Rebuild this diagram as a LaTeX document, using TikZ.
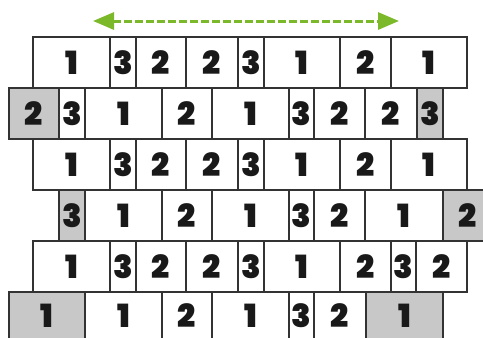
\documentclass[tikz,border=0pt]{standalone}
\usepackage{fontspec}
\newfontfamily\digitfont{Poppins Black}
\usetikzlibrary{arrows.meta}
\definecolor{brickline}{HTML}{333333}
\definecolor{brickgray}{HTML}{C8C8C8}
\definecolor{arrowgreen}{HTML}{7CB92A}
\tikzset{
  brick/.style={draw=brickline, line width=1.8pt, fill=white, inner sep=0pt,
    font=\digitfont\fontsize{32}{32}\selectfont, text=black!90},
  grey/.style={brick, fill=brickgray},
  spanarrow/.style={draw=arrowgreen, line width=3pt, dash pattern=on 8pt off 3pt,
    {Triangle[length=21pt,width=17pt,fill=arrowgreen]}-{Triangle[length=21pt,width=17pt,fill=arrowgreen]}}
}
\newcommand{\brick}[7]{\node[#7, minimum width={(#3-#2)*1pt}, minimum height={(#5-#4)*1pt}] (#1) at ({(#2+#3)/2},{(#4+#5)/2}) {#6};}
\begin{document}
\begin{tikzpicture}[x=1pt,y=-1pt]
\useasboundingbox (0,0) rectangle (483,338);
\clip (0,0) rectangle (483,338);
% arrow
\coordinate (al) at (93,21);
\coordinate (ar) at (399,21);
\draw[spanarrow] (al) -- (ar);
% row 1
\brick{a1}{33}{110}{37}{88}{1}{brick}
\brick{a2}{110}{136}{37}{88}{3}{brick}
\brick{a3}{136}{186}{37}{88}{2}{brick}
\brick{a4}{186}{238}{37}{88}{2}{brick}
\brick{a5}{238}{264}{37}{88}{3}{brick}
\brick{a6}{264}{340}{37}{88}{1}{brick}
\brick{a7}{340}{391}{37}{88}{2}{brick}
\brick{a8}{391}{467}{37}{88}{1}{brick}
% row 2
\brick{b1}{9}{59}{88}{139}{2}{grey}
\brick{b2}{59}{85}{88}{139}{3}{brick}
\brick{b3}{85}{162}{88}{139}{1}{brick}
\brick{b4}{162}{212}{88}{139}{2}{brick}
\brick{b5}{212}{289}{88}{139}{1}{brick}
\brick{b6}{289}{314}{88}{139}{3}{brick}
\brick{b7}{314}{365}{88}{139}{2}{brick}
\brick{b8}{365}{417}{88}{139}{2}{brick}
\brick{b9}{417}{443}{88}{139}{3}{grey}
% row 3
\brick{c1}{33}{110}{139}{190}{1}{brick}
\brick{c2}{110}{136}{139}{190}{3}{brick}
\brick{c3}{136}{186}{139}{190}{2}{brick}
\brick{c4}{186}{238}{139}{190}{2}{brick}
\brick{c5}{238}{264}{139}{190}{3}{brick}
\brick{c6}{264}{340}{139}{190}{1}{brick}
\brick{c7}{340}{391}{139}{190}{2}{brick}
\brick{c8}{391}{467}{139}{190}{1}{brick}
% row 4
\brick{d1}{59}{85}{190}{241}{3}{grey}
\brick{d2}{85}{162}{190}{241}{1}{brick}
\brick{d3}{162}{212}{190}{241}{2}{brick}
\brick{d4}{212}{289}{190}{241}{1}{brick}
\brick{d5}{289}{314}{190}{241}{3}{brick}
\brick{d6}{314}{365}{190}{241}{2}{brick}
\brick{d7}{365}{443}{190}{241}{1}{brick}
\brick{d8}{443}{493}{190}{241}{2}{grey}
% row 5
\brick{e1}{33}{110}{241}{292}{1}{brick}
\brick{e2}{110}{136}{241}{292}{3}{brick}
\brick{e3}{136}{186}{241}{292}{2}{brick}
\brick{e4}{186}{238}{241}{292}{2}{brick}
\brick{e5}{238}{264}{241}{292}{3}{brick}
\brick{e6}{264}{340}{241}{292}{1}{brick}
\brick{e7}{340}{391}{241}{292}{2}{brick}
\brick{e8}{391}{416}{241}{292}{3}{brick}
\brick{e9}{416}{467}{241}{292}{2}{brick}
% row 6 (cut by the lower edge)
\brick{f1}{9}{85}{292}{339}{1}{grey}
\brick{f2}{85}{162}{292}{339}{1}{brick}
\brick{f3}{162}{212}{292}{339}{2}{brick}
\brick{f4}{212}{289}{292}{339}{1}{brick}
\brick{f5}{289}{314}{292}{339}{3}{brick}
\brick{f6}{314}{366}{292}{339}{2}{brick}
\brick{f7}{366}{443}{292}{339}{1}{grey}
\end{tikzpicture}
\end{document}
